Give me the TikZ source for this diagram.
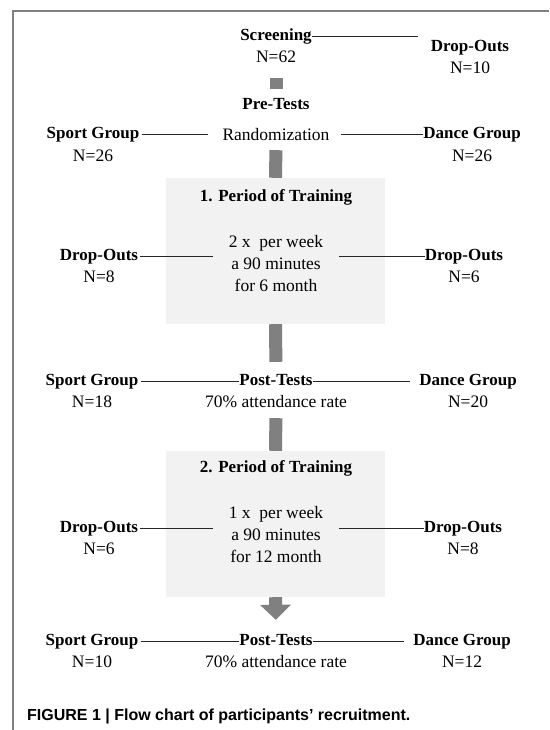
\documentclass[tikz,border=0pt]{standalone}
\usepackage{fontspec}
\setmainfont{Liberation Serif}
\newfontfamily\capfont{Liberation Sans}
\usetikzlibrary{arrows.meta}
\tikzstyle{boldlab} = [font=\fontsize{17}{20}\selectfont\bfseries, inner sep=0pt, text height=12pt, text depth=4pt]
\tikzstyle{numlab} = [font=\fontsize{17.5}{20}\selectfont, inner sep=0pt, text height=12pt, text depth=4pt]
\tikzstyle{sched} = [font=\fontsize{17.5}{22}\selectfont, inner sep=0pt, align=center]
\tikzstyle{period} = [rectangle, fill=black!5, minimum width=219pt, minimum height=146pt, inner sep=0pt]
\tikzstyle{link} = [line width=1pt, black!85]
\tikzstyle{bar} = [line width=13pt, black!50]
\tikzstyle{arrow} = [line width=13pt, black!50, -{Triangle[width=30pt, length=15pt]}]
\tikzstyle{frame} = [line width=1.6pt, black!50]
\begin{document}
\begin{tikzpicture}[x=1pt, y=-1pt, node distance=22pt]
  \useasboundingbox (0,0) rectangle (549,730);
  \draw[frame] (13,730) -- (13,11) -- (549,11);

  % screening
  \node(screen)[boldlab] at (276,37){Screening};
  \node(screenN)[numlab, below of=screen]{N=62};
  \node(drop0)[boldlab] at (470,48){Drop-Outs};
  \node(drop0N)[numlab, below of=drop0]{N=10};
  \coordinate(screenEnd) at (418,37);
  \draw[link] (screen.east) -- (screen.east -| screenEnd);
  \node(pre)[boldlab] at (276,106){Pre-Tests};
  \draw[bar, shorten <=11pt, shorten >=9pt] (screenN.south) -- (pre.north);

  % randomization
  \node(rand)[numlab] at (276,137){Randomization};
  \node(sport1)[boldlab] at (93,135){Sport Group};
  \node(sport1N)[numlab, below of=sport1]{N=26};
  \node(dance1)[boldlab] at (472,135){Dance Group};
  \node(dance1N)[numlab, below of=dance1]{N=26};
  \draw[link, shorten <=2pt, shorten >=14pt] (sport1.east) -- (sport1.east -| rand.west);
  \draw[link, shorten <=11pt] (dance1.west -| rand.east) -- (dance1.west);

  % first period
  \node(period1)[period] at (275.5,251){};
  \draw[bar, shorten <=5pt] (rand.south) -- (period1.north);
  \node(title1)[boldlab] at (276,197){1. Period of Training};
  \node(plan1)[sched] at (276,264){2 x~ per week\\a 90 minutes\\for 6 month};
  \node(dropL1)[boldlab] at (99,256){Drop-Outs};
  \node(dropL1N)[numlab, below of=dropL1]{N=8};
  \node(dropR1)[boldlab] at (464,256){Drop-Outs};
  \node(dropR1N)[numlab, below of=dropR1]{N=6};
  \draw[link, shorten <=2pt, shorten >=16pt] (dropL1.east) -- (dropL1.east -| plan1.west);
  \draw[link, shorten <=16pt] (dropR1.west -| plan1.east) -- (dropR1.west);

  % post-tests 1
  \node(post1)[boldlab] at (276,381){Post-Tests};
  \node(attend1)[numlab, below of=post1]{70\% attendance rate};
  \node(sport2)[boldlab] at (92,381){Sport Group};
  \node(sport2N)[numlab, below of=sport2]{N=18};
  \node(dance2)[boldlab] at (468,381){Dance Group};
  \node(dance2N)[numlab, below of=dance2]{N=20};
  \draw[bar, shorten >=11pt] (period1.south) -- (post1.north);
  \draw[link, shorten <=2pt] (sport2.east) -- (post1.west);
  \draw[link, shorten >=9pt] (post1.east) -- (dance2.west);

  % second period
  \node(period2)[period] at (275.5,524){};
  \draw[bar, shorten <=7pt] (attend1.south) -- (period2.north);
  \node(title2)[boldlab] at (276,468){2. Period of Training};
  \node(plan2)[sched] at (276,535){1 x~ per week\\a 90 minutes\\for 12 month};
  \node(dropL2)[boldlab] at (99,528){Drop-Outs};
  \node(dropL2N)[numlab, below of=dropL2]{N=6};
  \node(dropR2)[boldlab] at (463,528){Drop-Outs};
  \node(dropR2N)[numlab, below of=dropR2]{N=8};
  \draw[link, shorten <=2pt, shorten >=16pt] (dropL2.east) -- (dropL2.east -| plan2.west);
  \draw[link, shorten <=16pt] (dropR2.west -| plan2.east) -- (dropR2.west);

  % post-tests 2
  \node(post2)[boldlab] at (276,641){Post-Tests};
  \node(attend2)[numlab, below of=post2]{70\% attendance rate};
  \node(sport3)[boldlab] at (92,641){Sport Group};
  \node(sport3N)[numlab, below of=sport3]{N=10};
  \node(dance3)[boldlab] at (462,641){Dance Group};
  \node(dance3N)[numlab, below of=dance3]{N=12};
  \draw[arrow, shorten >=13pt] (period2.south) -- (post2.north);
  \draw[link, shorten <=2pt] (sport3.east) -- (post2.west);
  \draw[link, shorten >=9pt] (post2.east) -- (dance3.west);

  \node(caption)[anchor=west, inner sep=0pt, font=\capfont\fontsize{16}{18}\selectfont\bfseries] at (27,716){FIGURE 1 | Flow chart of participants’ recruitment.};
\end{tikzpicture}
\end{document}
